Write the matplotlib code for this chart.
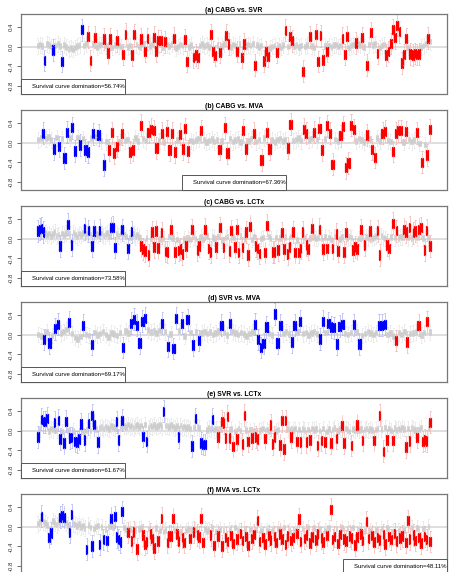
import matplotlib
matplotlib.use("Agg")
import matplotlib.pyplot as plt
from matplotlib.patches import Rectangle

plt.rcParams['font.family'] = ['Liberation Sans', 'DejaVu Sans']

# medians in hundredths, one per box (gray = not significant)
gray_a = [2, 4, 1, -3, 5, 3, 0, -2, 2, 6, 1, -4, 3, -1, -5, -3, -6, -2, 1, 3,
          4, 2, 6, 3, 1, 5, 2, -1, 3, 4, 0, 2, 5, 1, -2, 3, 6, 2, 0, 4,
          3, -1, 2, 5, 1, 4, 0, 3, 6, 2, -2, 1, 4, 3, 0, 5, 2, -1, 3, 4,
          1, 5, 2, -3, 0, 4, 2, 6, 1, -1, 3, 0, -4, -2, 2, 5, 1, 3, -1, 2,
          4, 0, 3, -2, 1, 5, 2, 3, -1, 4, 2, 0, 5, 3, -2, 1, 4, 2, 6, 0,
          3, -1, 2, 4, 1, 3, -3, 0, 2, 5, 1, -2, 3, 4, 0, 2, 6, 1, 3, -1,
          2, 4, 0, 3, 5, 1, -2, 2, 4, 0, 3, 1, 5, 2, -1, 3, 4, 0, 2, 6,
          1, 3, -2, 2, 4, 0, 5, 3, 1, -1, 2, 4, 0, 3, 5, 1, -2, 2, 4, 0,
          3, 1, -3, -1, 2, -4, -6, -3, -5, -2, -7, -4, -6, -3, -5, -1, 2, 6, 8, 10]
blue_a = [(3, -28), (7, -7), (11, -30), (20, 34)]
red_a = [(23, 20), (24, -28), (26, 19), (30, 15), (32, -13), (33, 15), (36, 12), (39, -16),
         (40, 25), (43, -17), (44, 24), (47, 15), (49, -10), (50, 16), (53, 19), (54, -9),
         (55, 12), (56, 12), (58, 10), (62, 17), (67, 14), (68, -30), (71, -22), (72, -17),
         (73, -22), (79, 24), (80, -10), (81, -18), (83, -12), (86, 23), (87, 5), (91, -10),
         (93, -22), (94, 5), (99, -38), (103, -29), (104, -10), (105, -20), (109, -12),
         (113, 33), (115, 20), (116, 12), (121, -50), (124, 20), (127, 24), (128, -30),
         (129, 22), (130, -27), (132, -10), (139, 17), (140, -16), (141, 20), (145, 7),
         (148, 18), (150, -38), (152, 28), (155, -14), (159, -17), (160, -10), (161, 6),
         (162, 34), (163, 18), (164, 43), (165, 30), (166, -33), (167, -16), (168, 16),
         (170, -15), (171, -17), (172, -14), (173, -16), (174, -15), (178, 17)]

gray_b = [6, 9, 4, 8, 11, 5, 7, 10, 3, 8, 6, 12, 9, 4, 7, 10, 5, 8, 3, 6,
          9, 5, 11, 7, 4, 8, 2, 6, 3, 7, 5, 1, 8, 4, 6, 2, 7, 9, 3, 5,
          8, 4, 6, 2, 9, 5, 3, 7, 1, 6, 4, 8, 2, 5, 7, 3, 6, 9, 4, 2,
          5, 8, 3, 6, 1, 4, 7, 2, 5, 9, 3, 6, 4, 8, 2, 5, 7, 1, 4, 6,
          3, 8, 5, 2, 6, 4, 9, 3, 7, 5, 1, 6, 8, 3, 5, 2, 7, 4, 6, 9,
          4, 2, 7, 5, 8, 3, 6, 1, 5, 7, 4, 8, 2, 6, 3, 9, 5, 4, 7, 2,
          6, 3, 8, 5, 1, 4, 7, 2, 6, 9, 3, 5, 8, 4, 2, 6, 3, 7, 5, 1,
          4, 6, 2, 5, 3, -2, 1, -4, 3, 6]
blue_b = [(2, 19), (6, -13), (8, -8), (10, -31), (11, 21), (13, 30), (14, -17), (16, -5),
          (18, -15), (19, -19), (21, 18), (23, 15), (25, -45)]
red_b = [(27, -15), (28, 20), (29, -21), (30, -8), (32, 18), (35, -19), (36, -15), (39, 35),
         (42, 21), (43, 27), (44, 24), (45, -11), (47, 19), (49, 23), (50, -15), (51, 19),
         (52, -19), (54, 17), (55, -13), (56, 28), (57, -17), (62, 24), (69, -14), (71, 30),
         (72, -21), (78, 25), (79, -13), (82, 19), (85, -35), (87, 20), (88, -13), (95, -11),
         (96, 37), (101, 27), (102, 19), (105, 21), (107, 29), (108, -15), (110, 34),
         (111, 19), (112, -44), (115, 14), (116, 32), (117, -51), (118, -41), (119, 35),
         (120, 26), (125, 15), (127, -14), (128, -30), (131, 19), (132, 23), (135, -18),
         (136, 19), (137, 24), (138, 24), (140, 22), (144, 20), (146, -40), (148, -25),
         (149, 26)]

gray_c = [8, 11, 6, 9, 12, 7, 10, 5, 9, 13, 6, 8, 4, 10, 7, 11, 5, 9, 6, 12,
          8, 4, 10, 7, 11, 6, 9, 3, 8, 12, 5, 9, 7, 4, 10, 6, 8, 11, 5, 9,
          7, 3, 9, 6, 10, 5, 8, 4, 7, 2, 6, 9, 4, 7, 3, 5, 2, 6, 1, 4,
          0, 3, -2, 2, 5, -1, 3, 0, -3, 2, 4, -1, 1, 3, -2, 0, 2, 5, -1, 3,
          1, -2, 2, 4, 0, -3, 1, 3, -1, 2, 5, 0, -2, 3, 1, -1, 4, 2, -3, 0,
          2, 4, -1, 1, 3, 0, -2, 2, 5, 1, -1, 3, 0, 2, -2, 4, 1, -1, 3, 0,
          2, -2, 1, 4, 0, 3, -1, 2, 5, 1, -2, 0, 3, 1, -1, 4, 2, 0, -3, 1,
          3, 0, 2, -1, 4, 1, -2, 3, 0, 2, 5, 1, -1, 3, 0, 2, -2, 1, 4, 0,
          2, -1, 3, 1, -2, 0, 4, 2, -1, 1, 3, 0, 5, 2, -1, 3, 1, 4, 0, 2,
          5, 1, 3, 6, 2, 0, 4, 1, 3, 5, 2, 6, 1, 4, 3, 0, 5, 2, 4, 1,
          3, 6, 2, 0, 4, 1, -1, 3, 2, 5]
blue_c = [(0, 15), (1, 19), (2, 21), (3, 13), (12, -15), (16, 29), (18, -13), (25, 20),
          (27, 16), (29, -15), (30, 15), (33, 17), (39, 22), (40, 23), (41, -18), (45, 18),
          (48, -20), (50, 14)]
red_c = [(55, -15), (56, -21), (57, -25), (59, -33), (61, 13), (62, -17), (63, 15), (64, -19),
         (66, 12), (68, -26), (69, -27), (71, 18), (73, -27), (75, -24), (76, -21), (77, -31),
         (79, -15), (82, 18), (85, -23), (86, -15), (89, 19), (91, -20), (92, -27), (95, -17),
         (97, 22), (99, -18), (102, -25), (103, 16), (105, -17), (106, 18), (107, -28),
         (109, -18), (111, 13), (112, -33), (113, 25), (116, -15), (117, -20), (118, -30),
         (121, -28), (122, 27), (125, -27), (126, -27), (128, -23), (130, 12), (131, -21),
         (133, -31), (134, -17), (136, 13), (137, -28), (139, -28), (140, -20), (141, 13),
         (143, -13), (144, -21), (146, 20), (150, 19), (152, -21), (154, -20), (157, -20),
         (159, 9), (160, -25), (163, -27), (164, 12), (168, -23), (169, -17), (170, -21),
         (172, 18), (174, -13), (177, 15), (181, 16), (182, -33), (186, -13), (187, -20),
         (189, 31), (191, 16), (195, 19), (196, 13), (198, 23), (200, 12), (201, 15),
         (203, 19), (204, 22), (206, -23), (207, 17), (209, -15)]

gray_d = [0, -3, 2, 5, 1, -2, 4, 8, 3, 6, 10, 5, 2, -6, -9, -4, 3, 0, -2, 1,
          4, -1, 2, 6, 0, -5, 3, 1, -2, 4, 2, 7, 3, 0, 5, 8, 2, 6, 4, 9,
          5, 7, 3, 8, 2, 6, 4, 1, 5, 3, 7, 2, -3, 0, 4, 1, 5, -2, 3, 6,
          2, 5, 0, 3, 7, 1, 4, -1, 2, 6, 3, 0, 4, 1, -3, 2, 5, 0, 3, 4,
          1, 5, 2, -1, 3, 0, 4, 2, 6, 1, -2, 3, 5, 0, 2, 4, -1, 3, 6, 1,
          3, 0, 4, 2, 5, 1, -1, 3, 6, 2, 0, 4, 1, 5, 3, -2, 2, 6, 3, 0,
          4, 1, 5, 2, 0, 3, -3, 1, 4, 0, 6, -4, 2, 3, 5, 1, -1, 4, 2, 5]
blue_d = [(2, -10), (4, -17), (6, 12), (7, 21), (11, 25), (16, 19), (19, -20), (30, -26),
          (33, 23), (34, 31), (35, 19), (36, -17), (37, 27), (38, 33), (44, 23), (46, -24),
          (48, -28), (49, 33), (51, 23), (53, 30), (55, -21), (57, -12), (65, 19), (68, 23),
          (77, 21), (78, -10), (79, -26), (80, -18), (81, 15), (84, 42), (85, -17), (86, 19),
          (90, -15), (91, 19), (93, 27), (100, -9), (101, 27), (103, 23), (104, 15),
          (105, 14), (106, -19), (107, 17), (108, 21), (112, 20), (114, -19), (121, 19),
          (122, 19), (123, 21)]
red_d = [(127, -12), (131, -15), (135, 19), (138, 26)]

gray_e = [0, 3, -2, 2, 5, 1, -1, 4, 2, -3, 0, 3, 1, -2, 4, 2, 0, 5, 1, -1,
          3, 0, 2, 5, -1, 3, 1, 4, 0, 2, 6, 3, 1, 5, 7, 4, 8, 6, 3, 9,
          7, 5, 10, 8, 6, 11, 9, 7, 12, 8, 10, 6, 9, 11, 7, 10, 8, 12, 9, 6,
          10, 8, 11, 7, 9, 12, 8, 6, 10, 9, 7, 11, 8, 5, 9, 7, 10, 6, 8, 5,
          7, 4, 8, 6, 3, 7, 5, 2, 6, 4, 1, 5, 3, 6, 2, 4, 1, 3, 5, 0,
          2, 4, -1, 3, 1, -2, 2, 4, 0, 3, -1, 1, 4, 2, -2, 0, 3, 1, -1, 2,
          4, 0, 2, -2, 1, 3, 0, -1, 2, 4, 1, -2, 0, 3, 2, -1, 1, 4, 0, 2,
          -1, 3, 1, 0, 2, -2, 4, 1, 3, -1, 0, 2, 4, 1, -2, 3, 0, 2, 5, 1,
          -1, 3, 2, 0, 4, 1, -2, 2, 3, 0, 5, 1, 3, -1, 2, 4, 0, 3, 1, 5,
          2, 4, 0, 3, 1, 6, 2, 4, 0, 3, 5, 1, 4, 2, 6, 3, 0, 4, 2, 5,
          3, 1, 4, 2, 6, 3, 5, 2, 4, 1]
blue_e = [(0, -13), (2, 23), (3, 18), (4, 18), (5, 25), (9, 17), (11, 21), (12, -17),
          (14, -25), (15, 19), (17, -15), (18, -14), (20, -22), (21, -23), (22, -17),
          (23, 13), (25, -19), (27, 14), (29, 31), (30, 12), (32, -23), (42, 18), (43, -19),
          (45, 21), (56, -12), (58, -22), (67, 39), (75, -13), (82, -31), (84, 24),
          (87, -25), (88, -28), (89, -28), (93, 23)]
red_e = [(96, -13), (98, 19), (99, 15), (100, -15), (101, 29), (102, -15), (104, -32),
         (106, -17), (109, -27), (110, 31), (112, -22), (114, -15), (116, -13), (117, -17),
         (121, -16), (124, 11), (125, -27), (126, -13), (129, -29), (130, 20), (131, -37),
         (132, 20), (135, -13), (138, -22), (140, -23), (143, -23), (145, -19), (149, -30),
         (151, -20), (153, -23), (156, -25), (159, -16), (162, 10), (163, -25), (167, -30),
         (170, 11), (173, -20), (179, -20), (182, 31), (184, -42), (186, -19), (189, -20),
         (196, -33), (198, -21), (202, -14), (205, -22), (206, -19), (207, -21), (209, 17)]

gray_f = [6, 9, 4, 10, 7, 3, 8, 5, 11, 7, 4, 9, 6, 10, 5, 8, 3, 7, 2, 6,
          4, 1, 5, -1, 2, -3, 0, 3, -2, 1, -4, 0, 2, -3, -1, 1, -5, -2, 0, -4,
          -1, -3, 0, -2, 1, -4, -2, -6, -3, -5, -8, -4, -7, -9, -5, -3, -8, -6, -10, -4,
          -7, -5, -9, -3, -6, -8, -4, -10, -7, -5, -9, -6, -3, -8, -5, -7, -11, -6, -4, -8,
          -5, -9, -7, -3, -6, -10, -8, -4, -7, -5, -9, -6, -8, -3, -7, -10, -5, -6, -4, -8,
          -6, -3, -7, -9, -5, -2, -6, -8, -4, -7, -5, -9, -3, -6, -8, -4, -7, -2, -5, -8,
          -6, -4, -9, -5, -3, -7, -10, -6, -4, -8, -5, -2, -7, -6, -9, -4, -5, -8, -3, -6,
          -7, -4, -9, -6, -2, -5, -8, -3, -6, -10, -5, -7, -4, -8, -6, -3, -9, -5, -7, -4,
          -6, -8, -3, -5, -9, -4, -7, -6, -2, -8, -5, -7, -3, -6, -9, -4, -5, -8, -6, -3,
          -7, -5, -9, -4, -6, -8, -3, -5, -7, -10, -4, -6, -8, -3, -5, -7, -4, -9, -6, -2,
          -5, -7, -3, -6, -8, -4, -5, -2, 0, 3]
blue_f = [(2, 21), (6, -22), (7, -13), (12, 19), (13, 23), (14, 19), (17, -12), (18, 24),
          (26, -46), (29, -39), (33, -36), (35, -26), (37, -28), (39, 17), (41, 20),
          (42, -21), (43, -26), (44, -31), (45, 30)]
red_f = [(48, -12), (50, -29), (51, -11), (53, -45), (56, -17), (57, -36), (58, -31),
         (60, -15), (61, -24), (62, -43), (64, -29), (66, 17), (69, -32), (70, -19),
         (71, -19), (72, 16), (74, -15), (75, -29), (77, -22), (78, -32), (81, -24),
         (83, -11), (85, -17), (86, -21), (87, 16), (88, -32), (92, -17), (94, -38),
         (96, -19), (98, -39), (100, -22), (101, -30), (103, -18), (104, -34), (106, -25),
         (108, -14), (109, -28), (111, -20), (112, -38), (114, -24), (115, -16), (117, 12),
         (118, -30), (120, -22), (121, -35), (123, -18), (124, -27), (126, -20), (127, -32),
         (129, -15), (130, -25), (132, -36), (133, -19), (135, -28), (136, -22), (138, -14),
         (139, 15), (140, -30), (142, -24), (143, -17), (145, -33), (146, -21), (148, -27),
         (149, -15), (151, -23), (152, -31), (154, -18), (156, 35), (157, -26), (158, -20),
         (160, -34), (161, -16), (163, -25), (164, -29), (166, -19), (167, -23), (169, -37),
         (170, -21), (172, -15), (173, -28), (175, 10), (176, -24), (178, -18), (179, -31),
         (181, -22), (182, -27), (184, -16), (185, -35), (187, -20), (188, -26), (190, -14),
         (191, -29), (193, -23), (194, -19), (196, -32), (197, 12), (198, -25), (200, -17),
         (201, -28), (203, -22), (204, -33), (206, -20), (207, -26), (209, -30)]

titles = ["(a) CABG vs. SVR", "(b) CABG vs. MVA", "(c) CABG vs. LCTx",
          "(d) SVR vs. MVA", "(e) SVR vs. LCTx", "(f) MVA vs. LCTx"]
domination = ["56.74%", "67.36%", "73.58%", "69.17%", "61.67%", "48.11%"]
legend_pos = ["left", "center", "left", "left", "left", "right"]
panels = [(gray_a, blue_a, red_a), (gray_b, blue_b, red_b), (gray_c, blue_c, red_c),
          (gray_d, blue_d, red_d), (gray_e, blue_e, red_e), (gray_f, blue_f, red_f)]

# box half height / whisker reach per group
spread = {"gray": (0.055, 0.16), "blue": (0.095, 0.22), "red": (0.095, 0.22)}
colors = {"gray": ("#cdcdcd", "#e4e4e4"), "blue": ("#0000ff", "#b0b4f2"),
          "red": ("#ff0000", "#f4b2b2")}


def stats(pos_med, group):
    half, reach = spread[group]
    out = []
    for p, m in pos_med:
        m = m / 100.0
        out.append(dict(med=m, q1=m - half, q3=m + half,
                        whislo=m - reach, whishi=m + reach, fliers=[]))
    return out


W, H = 449, 572
fig = plt.figure(figsize=(W / 100, H / 100), dpi=100)

for k, (gray, blue, red) in enumerate(panels):
    top = 14 + 96 * k
    ax = fig.add_axes([21 / W, 1 - (top + 79.5) / H, 426 / W, 79.5 / H])
    n = len(gray)
    used = set(p for p, _ in blue) | set(p for p, _ in red)
    groups = {"gray": [(i, v) for i, v in enumerate(gray) if i not in used],
              "blue": blue, "red": red}
    ax.axhline(0, color="#dcdcdc", lw=1.3, zorder=0)
    for g in ["gray", "blue", "red"]:
        pm = groups[g]
        if not pm:
            continue
        c, wc = colors[g]
        lw = 0.5 if g == "gray" else 0.9
        ax.bxp(stats(pm, g), positions=[p for p, _ in pm], widths=0.85,
               patch_artist=True, showfliers=False, manage_ticks=False,
               capwidths=0.45,
               boxprops=dict(facecolor=c, edgecolor=c, linewidth=lw),
               whiskerprops=dict(color=wc, linewidth=0.5),
               capprops=dict(color=wc, linewidth=0.5),
               medianprops=dict(color=c, linewidth=0.5))
    pad = 0.04 * n
    ax.set_xlim(-0.5 - pad, n - 0.5 + pad)
    ax.set_ylim(-0.95, 0.66)
    ax.set_xticks([])
    ax.set_yticks([-0.8, -0.4, 0.0, 0.4])
    ax.set_yticklabels(["-0.8", "-0.4", "0.0", "0.4"], rotation=90, va="center",
                       fontsize=4.3)
    ax.tick_params(axis="y", length=2.8, width=0.5, pad=2.5, colors="#333333")
    for s in ax.spines.values():
        s.set_color("#777777")
        s.set_linewidth(0.9)
    ax.set_title(titles[k], fontsize=4.9, fontweight="bold", pad=1.2)

    bw, bh = 0.244, 0.177
    x0 = {"left": 0.0, "center": 0.5 - bw / 2, "right": 1.0 - bw}[legend_pos[k]]
    ax.add_patch(Rectangle((x0, 0), bw, bh, transform=ax.transAxes, fill=True,
                           facecolor="white", edgecolor="#555555", lw=0.7,
                           zorder=5, clip_on=False))
    ax.text(x0 + 0.026, bh / 2, "Survival curve domination=" + domination[k],
            transform=ax.transAxes, fontsize=4.3, va="center", ha="left", zorder=6)

fig.savefig("out.png", dpi=100)
